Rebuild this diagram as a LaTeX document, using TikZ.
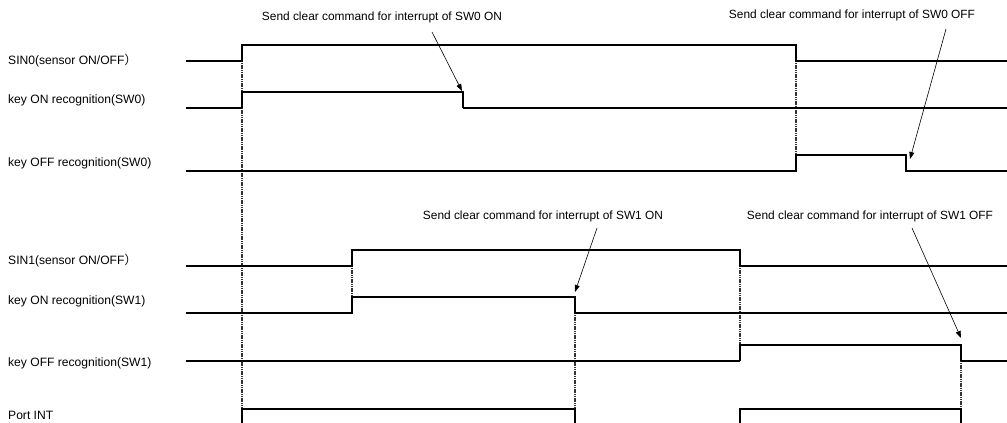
\documentclass[tikz,border=0pt]{standalone}
\usepackage{fontspec}
\setmainfont{Liberation Sans}
\newfontfamily\cjk{Noto Sans CJK SC}
\usetikzlibrary{arrows.meta}
\begin{document}
\begin{tikzpicture}[x=1pt,y=-1pt,
  sig/.style={line width=1.2pt, line join=miter},
  sigthick/.style={line width=2pt},
  guide/.style={line width=1.2pt, draw=black!80, dash pattern=on 1.2pt off 0.6pt},
  lbl/.style={anchor=west, inner sep=0, font=\fontsize{12.1}{14}\selectfont},
  note/.style={anchor=center, inner sep=0, font=\fontsize{11.9}{14}\selectfont},
  callout/.style={-{Triangle[length=7pt,width=5pt]}, line width=0.6pt}]
\useasboundingbox (0,0) rectangle (1007,423);

% signal labels
\node[lbl] (l1) at (8,61)  {SIN0(sensor ON/OFF{\cjk ）}};
\node[lbl] (l2) at (8,100) {key ON recognition(SW0)};
\node[lbl] (l3) at (8,163) {key OFF recognition(SW0)};
\node[lbl] (l4) at (8,261) {SIN1(sensor ON/OFF{\cjk ）}};
\node[lbl] (l5) at (8,301) {key ON recognition(SW1)};
\node[lbl] (l6) at (8,363) {key OFF recognition(SW1)};
\node[lbl] (l7) at (8,415) {Port INT};

% guide lines
\draw[guide] (242,61) -- (242,409);
\draw[guide] (796,61) -- (796,155);
\draw[guide] (352,266) -- (352,297);
\draw[guide] (575,313) -- (575,409);
\draw[guide] (740,266) -- (740,345);
\draw[guide] (961,361) -- (961,409);

% SIN0
\draw[sig] (186,61) -- (242,61) -- (242,45) -- (796,45) -- (796,61) -- (1007,61);
% key ON SW0
\draw[sigthick] (186,108) -- (242,108);
\draw[sig] (242,108) -- (242,92) -- (463,92) -- (463,108);
\draw[sigthick] (462.5,108) -- (1007,108);
% key OFF SW0
\draw[sig] (186,171) -- (796,171) -- (796,155) -- (906,155) -- (906,171) -- (1007,171);
% SIN1
\draw[sig] (186,266) -- (352,266) -- (352,250) -- (740,250) -- (740,266) -- (1007,266);
% key ON SW1
\draw[sig] (186,313) -- (352,313) -- (352,297) -- (575,297) -- (575,313) -- (1007,313);
% key OFF SW1
\draw[sigthick] (186,361) -- (740,361);
\draw[sig] (740,361) -- (740,345) -- (961,345) -- (961,361);
\draw[sigthick] (960.5,361) -- (1007,361);
% Port INT
\draw[sig] (242,430) -- (242,409) -- (575,409) -- (575,430);
\draw[sig] (740,430) -- (740,409) -- (961,409) -- (961,430);

% notes
\node[note] (n1) at (382,17)  {Send clear command for interrupt of SW0 ON};
\node[note] (n2) at (852,15)  {Send clear command for interrupt of SW0 OFF};
\node[note] (n3) at (543,216) {Send clear command for interrupt of SW1 ON};
\node[note] (n4) at (870,216) {Send clear command for interrupt of SW1 OFF};

\coordinate (a1s) at (432,32);  \coordinate (a1e) at (462,91);
\coordinate (a2s) at (946,29);  \coordinate (a2e) at (910,159);
\coordinate (a3s) at (597,228); \coordinate (a3e) at (575,292);
\coordinate (a4s) at (912,228); \coordinate (a4e) at (961,338);
\draw[callout] (a1s) -- (a1e);
\draw[callout] (a2s) -- (a2e);
\draw[callout] (a3s) -- (a3e);
\draw[callout] (a4s) -- (a4e);
\end{tikzpicture}
\end{document}
